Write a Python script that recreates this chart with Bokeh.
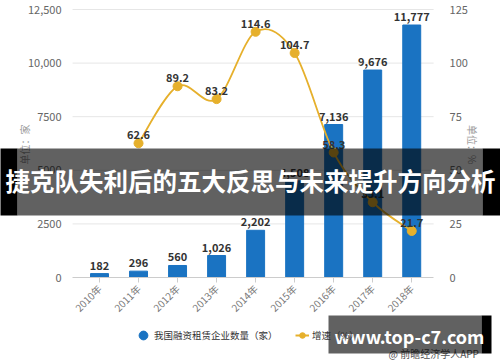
import math
from bokeh.plotting import figure
from bokeh.models import (ColumnDataSource, Range1d, LinearAxis, LabelSet, Label,
                          BoxAnnotation, Legend, LegendItem, FixedTicker)
from bokeh.core.properties import value
from bokeh.embed import file_html
from bokeh.resources import INLINE

# ---- data ----
years = ["2010年", "2011年", "2012年", "2013年", "2014年", "2015年", "2016年", "2017年", "2018年"]
counts = [182, 296, 560, 1026, 2202, 4508, 7136, 9676, 11777]
count_labels = ["182", "296", "560", "1,026", "2,202", "4,508", "7,136", "9,676", "11,777"]
growth_years = ["2011年", "2012年", "2013年", "2014年", "2015年", "2016年", "2017年", "2018年"]
growth = [62.6, 89.2, 83.2, 114.6, 104.7, 58.3, 35.1, 21.7]
left_ticks = [0, 2500, 5000, 7500, 10000, 12500]
left_tick_labels = ["0", "2500", "5000", "7500", "10,000", "12,500"]
right_ticks = [0, 25, 50, 75, 100, 125]
series_names = ["我国融资租赁企业数量（家）", "增速（%）"]
left_title = "单位：家"
right_title = "单位：%"
banner_text = "捷克队失利后的五大反思与未来提升方向分析"
watermark_text = "www.top-c7.com"
source_text = "@ 前瞻经济学人APP"

FONT = "Noto Sans CJK SC"
BAR = "#1a73c2"
GOLD = "#e6b02c"

# ---- layout (pixel geometry of the drawing area) ----
W, H = 500, 362
PX = 39.03                      # px per category
XS = -99 / PX
XE = XS + W / PX
YPX = 12500 / 268               # value per px (left axis)
YS = -(H - 277) * YPX
YE = 12500 + 9 * YPX
RPX = 125 / 268
RS = -(H - 277) * RPX
RE = 125 + 9 * RPX
PL, PR = -0.69, 8.56            # plot-area bounds in category units
NAN = float("nan")

def cx(px):
    return XS + px / PX

def cy(py):
    return YE - py * YPX

xs = list(range(len(years)))
gx = [years.index(y) for y in growth_years]

p = figure(width=W, height=H, output_backend="svg", toolbar_location=None,
           x_range=Range1d(XS, XE), y_range=Range1d(YS, YE),
           x_axis_location=None, y_axis_location=None, min_border=0)
p.outline_line_color = None
p.background_fill_color = "white"
p.grid.visible = False
p.extra_y_ranges = {"right": Range1d(RS, RE)}

# horizontal grid lines at the left-axis ticks, spanning the plot area
p.segment(x0=[PL] * 5, x1=[PR] * 5, y0=left_ticks[1:], y1=left_ticks[1:],
          line_color="#e6e6e6", line_width=1)

bar_src = ColumnDataSource(dict(x=xs, top=counts, lab=count_labels))
p.vbar(x="x", top="top", width=0.46, color=BAR, source=bar_src)

# smooth growth line through the points (cubic bezier segments)
bx0, by0, bx1, by1, c0x, c0y, c1x, c1y = [], [], [], [], [], [], [], []
n = len(gx)
for i in range(n - 1):
    p0 = (gx[max(i - 1, 0)], growth[max(i - 1, 0)])
    p1 = (gx[i], growth[i])
    p2 = (gx[i + 1], growth[i + 1])
    p3 = (gx[min(i + 2, n - 1)], growth[min(i + 2, n - 1)])
    bx0.append(p1[0]); by0.append(p1[1]); bx1.append(p2[0]); by1.append(p2[1])
    c0x.append(p1[0] + (p2[0] - p0[0]) / 6); c0y.append(p1[1] + (p2[1] - p0[1]) / 6)
    c1x.append(p2[0] - (p3[0] - p1[0]) / 6); c1y.append(p2[1] - (p3[1] - p1[1]) / 6)
p.bezier(x0=bx0, y0=by0, x1=bx1, y1=by1, cx0=c0x, cy0=c0y, cx1=c1x, cy1=c1y,
         line_color=GOLD, line_width=1.8, y_range_name="right")
line_src = ColumnDataSource(dict(x=gx, y=growth, lab=[f"{v:.1f}" for v in growth]))
p.scatter(x="x", y="y", size=9, color=GOLD, source=line_src, y_range_name="right")

# data labels
p.add_layout(LabelSet(x="x", y="top", text="lab", source=bar_src, y_offset=4,
                      text_align="center", text_baseline="bottom",
                      text_font=value(FONT), text_font_size="11px",
                      text_font_style="bold", text_color="#333333"))
p.add_layout(LabelSet(x="x", y="y", text="lab", source=line_src, y_offset=4,
                      text_align="center", text_baseline="bottom", y_range_name="right",
                      text_font=value(FONT), text_font_size="11px",
                      text_font_style="bold", text_color="#333333"))

# axes (fixed at the plot-area edges)
xa = LinearAxis(fixed_location=0, bounds=(PL, PR), ticker=FixedTicker(ticks=xs))
xa.major_label_overrides = {i: y for i, y in enumerate(years)}
xa.major_label_orientation = math.pi / 4
xa.axis_line_color = "#cccccc"
xa.major_tick_line_color = "#cccccc"
xa.major_tick_in = 0
xa.major_tick_out = 5
xa.minor_tick_line_color = None
xa.major_label_text_font = FONT
xa.major_label_text_font_size = "10px"
xa.major_label_text_color = "#777777"
xa.major_label_standoff = 4
p.add_layout(xa, "below")

la = LinearAxis(fixed_location=PL, bounds=(0, 12500), ticker=FixedTicker(ticks=left_ticks))
la.major_label_overrides = {t: s for t, s in zip(left_ticks, left_tick_labels)}
ra = LinearAxis(fixed_location=PR, y_range_name="right", bounds=(0, 125),
                ticker=FixedTicker(ticks=right_ticks))
for ax in (la, ra):
    ax.axis_line_color = None
    ax.major_tick_line_color = None
    ax.minor_tick_line_color = None
    ax.major_label_text_font = FONT
    ax.major_label_text_font_size = "11px"
    ax.major_label_text_color = "#666666"
la.major_label_standoff = 5
ra.major_label_standoff = 10
p.add_layout(la, "left")
p.add_layout(ra, "right")

# axis titles
p.add_layout(Label(x=cx(24), y=cy(144), text=left_title, angle=math.pi / 2,
                   text_align="center", text_baseline="middle",
                   text_font=FONT, text_font_size="10px", text_color="#999999"))
p.add_layout(Label(x=cx(472), y=cy(144), text=right_title, angle=-math.pi / 2,
                   text_align="center", text_baseline="middle",
                   text_font=FONT, text_font_size="10px", text_color="#999999"))

# legends (key glyphs only; no visible data)
key1 = p.scatter(x=[NAN], y=[NAN], size=10, color=BAR)
key2 = p.line(x=[NAN, NAN], y=[NAN, NAN], line_color=GOLD, line_width=2)
key3 = p.scatter(x=[NAN], y=[NAN], size=7, color=GOLD)
common = dict(orientation="horizontal", label_text_font=FONT, label_text_font_size="9.5px",
              label_text_color="#333333", padding=0, margin=0,
              border_line_color=None, background_fill_alpha=0)
leg1 = Legend(items=[LegendItem(label=series_names[0], renderers=[key1])],
              location=(132, 16), glyph_width=22, glyph_height=22, label_standoff=0,
              **common)
leg2 = Legend(items=[LegendItem(label=series_names[1], renderers=[key2, key3])],
              location=(295, 20), glyph_width=14, glyph_height=14, label_standoff=3,
              **common)
p.add_layout(leg1, "center")
p.add_layout(leg2, "center")

p.add_layout(Label(x=cx(388), y=cy(352.5), text=source_text, text_baseline="middle",
                   text_font=FONT, text_font_size="10px", text_color="#555555"))

# overlay banner
p.add_layout(BoxAnnotation(left=cx(17), right=cx(482), top=cy(148), bottom=cy(215),
                           fill_color="black", fill_alpha=0.62, line_color=None))
p.add_layout(BoxAnnotation(left=cx(-2), right=cx(17), top=cy(148), bottom=cy(215),
                           fill_color="black", fill_alpha=1, line_color=None))
p.add_layout(BoxAnnotation(left=cx(482), right=cx(502), top=cy(148), bottom=cy(215),
                           fill_color="black", fill_alpha=1, line_color=None))
p.add_layout(Label(x=cx(250), y=cy(180), text=banner_text, text_align="center",
                   text_baseline="middle", text_font=FONT, text_font_size="24.5px",
                   text_font_style="bold", text_color="white"))

# watermark box
p.add_layout(BoxAnnotation(left=cx(328), right=cx(481), top=cy(315), bottom=cy(353),
                           fill_color="black", fill_alpha=0.62, line_color=None))
p.add_layout(BoxAnnotation(left=cx(481), right=cx(491), top=cy(315), bottom=cy(353),
                           fill_color="black", fill_alpha=1, line_color=None))
p.add_layout(Label(x=cx(409), y=cy(335), text=watermark_text, text_align="center",
                   text_baseline="middle", text_font=FONT, text_font_size="18px",
                   text_font_style="bold", text_color="white"))

open("out.html", "w").write(file_html(p, INLINE))
